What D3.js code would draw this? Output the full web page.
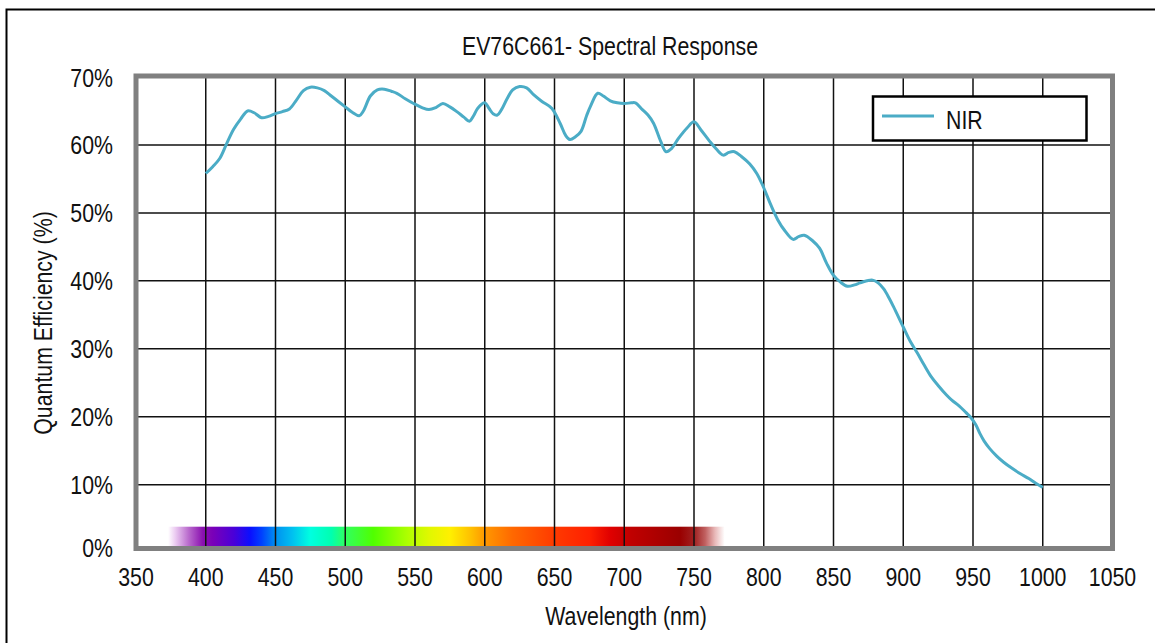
<!DOCTYPE html>
<html><head><meta charset="utf-8">
<script src="https://cdn.jsdelivr.net/npm/d3@7/dist/d3.min.js"></script>
<style>
html,body{margin:0;padding:0;background:#fff;}
svg text{font-family:"Liberation Sans",Arial,sans-serif;fill:#111;}
</style></head>
<body>
<svg id="chart" width="1155" height="643"></svg>
<script>
const title = "EV76C661- Spectral Response";
const xLabel = "Wavelength (nm)";
const yLabel = "Quantum Efficiency (%)";
const seriesName = "NIR";
const xTicks = [350,400,450,500,550,600,650,700,750,800,850,900,950,1000,1050];
const yTicks = [0,10,20,30,40,50,60,70];
const wavelengths = [400,405,410,415,420,425,430,435,440,445,450,455,460,465,470,475,480,485,490,495,500,505,510,513,518,523,528,533,537,543,549,555,560,565,570,575,580,585,589,592,595,600,603,606,609,612,616,620,625,630,635,641,648,654,658,661,665,669,673,676,681,685,690,695,700,705,708,713,717,721,726,730,734,739,745,750,755,761,766,771,775,779,784,790,795,800,805,810,815,821,825,829,835,840,845,850,855,860,865,869,874,878,882,886,890,893,900,905,910,915,920,925,931,935,940,945,948,952,955,958,962,967,972,978,984,990,995,1000];
const nirQE = [55.8,56.8,58.0,60.2,62.3,63.8,65.0,64.7,64.0,64.2,64.6,64.9,65.3,66.6,68.0,68.5,68.4,68.0,67.2,66.4,65.6,64.8,64.3,65.0,67.2,68.1,68.2,67.9,67.6,66.8,66.1,65.5,65.2,65.5,66.1,65.6,64.9,64.1,63.5,64.3,65.4,66.2,65.4,64.6,64.4,65.2,66.8,68.1,68.6,68.4,67.4,66.4,65.4,63.2,61.4,60.8,61.2,62.0,64.3,65.8,67.6,67.2,66.5,66.2,66.1,66.2,66.2,65.2,64.4,63.2,60.6,59.0,59.5,61.0,62.5,63.4,62.2,60.6,59.4,58.5,58.9,59.0,58.3,57.2,55.8,53.7,51.2,49.0,47.4,46.1,46.5,46.7,45.9,44.8,42.6,40.8,39.8,39.2,39.4,39.7,40.0,40.1,39.7,38.8,37.4,36.2,33.2,31.1,29.4,27.6,25.9,24.6,23.2,22.4,21.6,20.6,20.0,18.8,17.5,16.4,15.3,14.2,13.3,12.4,11.6,10.9,10.2,9.6];
const spectrumNm = [373,378,388,398,405,420,432,440,450,462,475,490,500,520,545,560,575,590,600,620,650,675,690,705,740,750,758,765,772];
const spectrumColors = ["#ffffff","#eccdf2","#b868cc","#8a10b0","#7a00b8","#4a00d8","#0a10ff","#0040ff","#0090f0","#00c0f0","#00ffe0","#00ffb0","#30ff60","#50ff00","#b0ff00","#e0f800","#fff000","#ffc000","#ff9800","#ff6800","#ff3a00","#ff2000","#e00000","#c00000","#9a0000","#a02020","#c06060","#e8b8b8","#ffffff"];

const svg = d3.select("#chart");
const L = 136, R = 1112.5, T = 76, B = 548.5;
const x = d3.scaleLinear().domain([350,1050]).range([L,R]);
const y = d3.scaleLinear().domain([0.6,70]).range([B,77]);
const SX = 0.82, fs = 26;

function label(parent, tx, ty, str, anchor, rot){
  const gg = parent.append("g").attr("transform",`translate(${tx},${ty})${rot?` rotate(${rot})`:""} scale(${SX},1)`);
  gg.append("text").attr("x",0).attr("y",0).attr("text-anchor",anchor).attr("font-size",fs).text(str);
  return gg;
}

// outer frame
svg.append("rect").attr("x",6.5).attr("y",9.5).attr("width",1300).attr("height",800)
  .attr("fill","#fff").attr("stroke","#000").attr("stroke-width",2);

svg.append("rect").attr("x",L).attr("y",T).attr("width",R-L).attr("height",B-T).attr("fill","#fff");

// spectrum bar
const grad = svg.append("defs").append("linearGradient").attr("id","spec")
  .attr("gradientUnits","userSpaceOnUse")
  .attr("x1",x(spectrumNm[0])).attr("x2",x(spectrumNm[spectrumNm.length-1])).attr("y1",0).attr("y2",0);
const s0 = spectrumNm[0], s1 = spectrumNm[spectrumNm.length-1];
grad.selectAll("stop").data(spectrumNm).join("stop")
  .attr("offset",d=>(d-s0)/(s1-s0))
  .attr("stop-color",(d,i)=>spectrumColors[i]);
svg.append("rect").attr("x",x(s0)).attr("width",x(s1)-x(s0))
  .attr("y",526.7).attr("height",B-526.7).attr("fill","url(#spec)");

// grid
const g = svg.append("g");
g.selectAll("line.v").data(xTicks.slice(1,-1)).join("line")
  .attr("x1",d=>x(d)).attr("x2",d=>x(d)).attr("y1",T).attr("y2",B)
  .attr("stroke","#111").attr("stroke-width",1.5);
g.selectAll("line.h").data(yTicks.slice(1,-1)).join("line")
  .attr("y1",d=>y(d)).attr("y2",d=>y(d)).attr("x1",L).attr("x2",R)
  .attr("stroke","#111").attr("stroke-width",1.5);

svg.append("rect").attr("x",L).attr("y",T).attr("width",R-L).attr("height",B-T)
  .attr("fill","none").attr("stroke","#808080").attr("stroke-width",5);

// curve
const data = wavelengths.map((w,i)=>({w, v:nirQE[i]}));
svg.append("path").datum(data)
  .attr("d", d3.line().x(d=>x(d.w)).y(d=>y(d.v)).curve(d3.curveCatmullRom.alpha(0.5)))
  .attr("fill","none").attr("stroke","#4BACC6").attr("stroke-width",3).attr("stroke-linejoin","round");

// labels
const xl = svg.append("g");
xTicks.forEach(d=>label(xl, x(d), 586, String(d), "middle"));
const yl = svg.append("g");
yTicks.forEach(d=>label(yl, 113, Math.min(y(d), B-1)+9.5, d+"%", "end"));

label(svg, 610, 55, title, "middle");
label(svg, 626, 625, xLabel, "middle");
label(svg, 52, 323, yLabel, "middle", -90);

// legend
svg.append("rect").attr("x",873).attr("y",96.5).attr("width",213.5).attr("height",44)
  .attr("fill","#fff").attr("stroke","#000").attr("stroke-width",2.5);
svg.append("line").attr("x1",882).attr("x2",934).attr("y1",116).attr("y2",116)
  .attr("stroke","#4BACC6").attr("stroke-width",3);
label(svg, 946, 128.5, seriesName, "start");
</script>
</body></html>
